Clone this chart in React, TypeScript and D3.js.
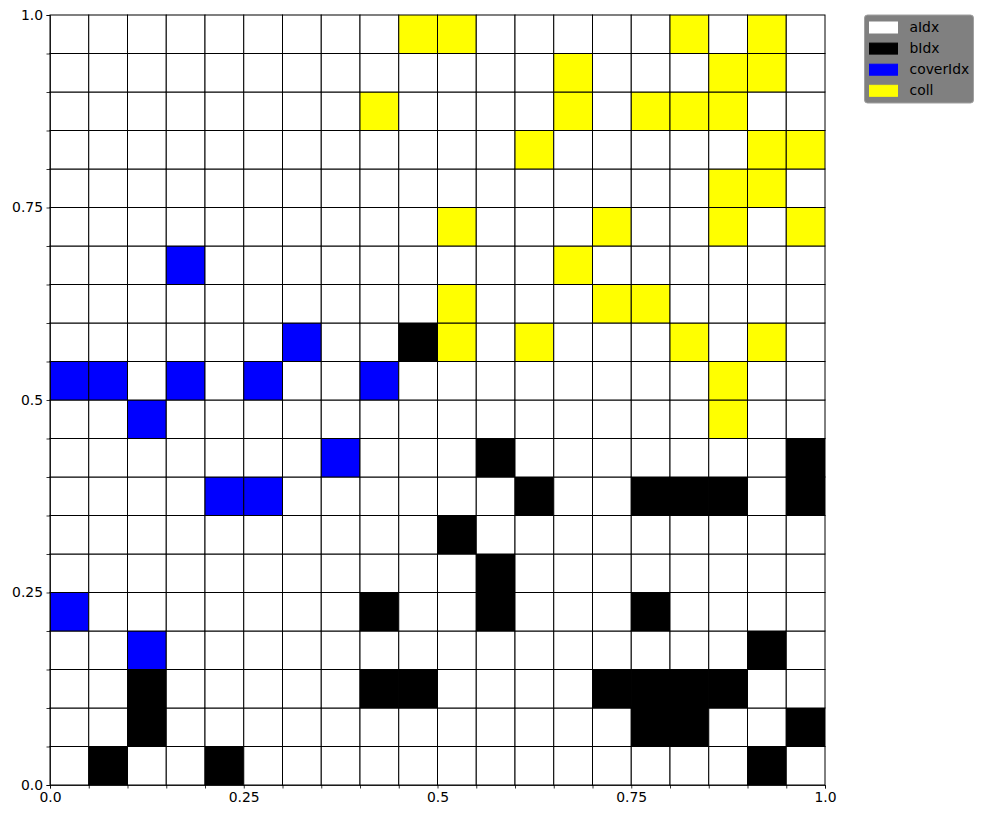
import React, { useEffect, useRef } from "react";
import * as d3 from "d3";

// grid is 20 x 20, cells given as [column, row] with row 0 at the bottom
const nCells = 20;
const bIdx: [number, number][] = [
  [9, 11], [11, 8], [19, 8], [12, 7], [15, 7], [16, 7], [17, 7], [19, 7],
  [10, 6], [11, 5], [8, 4], [11, 4], [15, 4], [18, 3],
  [2, 2], [8, 2], [9, 2], [14, 2], [15, 2], [16, 2], [17, 2],
  [2, 1], [15, 1], [16, 1], [19, 1], [1, 0], [4, 0], [18, 0],
];
const coverIdx: [number, number][] = [
  [3, 13], [6, 11], [0, 10], [1, 10], [3, 10], [5, 10], [8, 10],
  [2, 9], [7, 8], [4, 7], [5, 7], [0, 4], [2, 3],
];
const coll: [number, number][] = [
  [9, 19], [10, 19], [16, 19], [18, 19],
  [13, 18], [17, 18], [18, 18],
  [8, 17], [13, 17], [15, 17], [16, 17], [17, 17],
  [12, 16], [18, 16], [19, 16],
  [17, 15], [18, 15],
  [10, 14], [14, 14], [17, 14], [19, 14],
  [13, 13],
  [10, 12], [14, 12], [15, 12],
  [10, 11], [12, 11], [16, 11], [18, 11],
  [17, 10], [17, 9],
];
const legendLabels = ["aIdx", "bIdx", "coverIdx", "coll"];
const legendColors = ["#ffffff", "#000000", "#0000ff", "#ffff00"];
const majorTicks = [0, 0.25, 0.5, 0.75, 1.0];
const majorLabels = ["0.0", "0.25", "0.5", "0.75", "1.0"];

export default function App() {
  const ref = useRef<SVGSVGElement>(null);

  useEffect(() => {
    const width = 983, height = 819;
    const margin = { top: 15, right: 158, bottom: 34, left: 50 };
    const font = "DejaVu Sans, sans-serif";

    const svg = d3.select(ref.current);
    svg.selectAll("*").remove();
    svg.attr("width", width).attr("height", height);

    const x = d3.scaleLinear().domain([0, 1]).range([margin.left, width - margin.right]);
    const y = d3.scaleLinear().domain([0, 1]).range([height - margin.bottom, margin.top]);
    const step = 1 / nCells;

    const kind = new Map<string, number>();
    bIdx.forEach(([c, r]) => kind.set(c + "," + r, 1));
    coverIdx.forEach(([c, r]) => kind.set(c + "," + r, 2));
    coll.forEach(([c, r]) => kind.set(c + "," + r, 3));

    const cells: { c: number; r: number; k: number }[] = [];
    for (let c = 0; c < nCells; c++)
      for (let r = 0; r < nCells; r++)
        cells.push({ c, r, k: kind.get(c + "," + r) ?? 0 });

    svg.append("g")
      .selectAll("rect")
      .data(cells)
      .enter()
      .append("rect")
      .attr("x", d => x(d.c * step))
      .attr("y", d => y((d.r + 1) * step))
      .attr("width", x(step) - x(0))
      .attr("height", y(0) - y(step))
      .attr("fill", d => legendColors[d.k])
      .attr("stroke", "#000")
      .attr("stroke-width", 1);

    const minor = d3.range(0, nCells + 1).map(i => i * step);
    const fmt = (d: d3.NumberValue) => {
      const i = majorTicks.findIndex(t => Math.abs(t - +d) < 1e-9);
      return i >= 0 ? majorLabels[i] : "";
    };

    const gx = svg.append("g")
      .attr("transform", `translate(0,${height - margin.bottom})`)
      .call(d3.axisBottom(x).tickValues(minor).tickFormat(fmt).tickSize(3.5).tickPadding(3.5));
    const gy = svg.append("g")
      .attr("transform", `translate(${margin.left},0)`)
      .call(d3.axisLeft(y).tickValues(minor).tickFormat(fmt).tickSize(3.5).tickPadding(3.5));

    [gx, gy].forEach(g => {
      g.select(".domain").attr("stroke", "#000").attr("stroke-width", 0.8);
      g.selectAll(".tick line").attr("stroke", "#000").attr("stroke-width", 0.8);
      g.selectAll("text").attr("font-family", font).attr("font-size", 13.9).attr("fill", "#000");
    });

    // legend
    const lg = svg.append("g").attr("transform", "translate(864.5,15)");
    lg.append("rect")
      .attr("width", 109).attr("height", 88)
      .attr("rx", 3)
      .attr("fill", "#808080")
      .attr("stroke", "#a0a0a0");
    legendLabels.forEach((lab, i) => {
      const yy = 7 + i * 21.1;
      lg.append("rect")
        .attr("x", 5).attr("y", yy)
        .attr("width", 28).attr("height", 11)
        .attr("fill", legendColors[i])
        .attr("stroke", i === 0 ? "#ffffff" : legendColors[i]);
      lg.append("text")
        .attr("x", 45).attr("y", yy + 10)
        .attr("font-family", font)
        .attr("font-size", 13.9)
        .attr("fill", "#000")
        .text(lab);
    });
  }, []);

  return (
    <div style={{ position: "absolute", left: 0, top: 0 }}>
      <svg ref={ref}></svg>
    </div>
  );
}
